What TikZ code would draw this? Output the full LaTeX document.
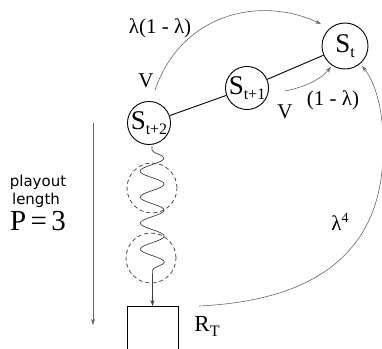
\documentclass[tikz,border=0pt]{standalone}
\usepackage{fontspec}
\setmainfont{Liberation Serif}
\newfontfamily\sansf{DejaVu Sans}
\usetikzlibrary{arrows.meta,decorations.pathmorphing}
\newcommand\lowsub[1]{\raisebox{-5pt}{\fontsize{16}{16}\selectfont #1}}
\newcommand\highsup[1]{\raisebox{8pt}{\fontsize{14}{14}\selectfont #1}}
\begin{document}
\begin{tikzpicture}[x=1pt,y=-1pt,
  state/.style={circle, draw, line width=0.9pt, inner sep=0pt, font=\fontsize{27}{27}\selectfont},
  lbl/.style={font=\fontsize{21}{21}\selectfont, inner sep=0pt},
  arcline/.style={draw=black!60, line width=0.6pt, -{Stealth[length=6pt,width=4pt]}},
  dashcirc/.style={circle, draw=black!70, dash pattern=on 4pt off 3pt, line width=0.8pt, minimum size=50pt, inner sep=0pt},
  solidline/.style={line width=0.9pt}]
\useasboundingbox (0,0) rectangle (382,348);
% states
\node[state, minimum size=46pt] (St) at (345,46) {S\lowsub{t}};
\node[state, minimum size=40pt] (St1) at (247,88) {S\lowsub{t+1}};
\node[state, minimum size=42pt] (St2) at (149,123) {S\lowsub{t+2}};
\draw[solidline] (St2) -- (St1);
\draw[solidline] (St1) -- (St);
% dashed circles
\node[dashcirc] (d1) at (152,188) {};
\node[dashcirc] (d2) at (151,258) {};
% terminal box
\node[draw, line width=0.9pt, minimum width=51pt, minimum height=60pt, anchor=north, inner sep=0pt] (box) at (152.5,306) {};
% playout wave
\coordinate (w0) at (152,146);
\draw[line width=0.7pt, black!75, decorate, decoration={snake, amplitude=12pt, segment length=26pt, pre length=4pt, post length=34pt}, -{Stealth[length=6pt,width=4pt]}] (w0) -- (box.north);
% arcs
\coordinate (a1s) at (155,90);
\coordinate (a1e) at (321,24);
\draw[arcline] (a1s) .. controls (182,12) and (262,-4) .. (a1e);
\coordinate (a2s) at (285,91);
\coordinate (a2e) at (331,67);
\draw[arcline] (a2s) .. controls (300,88) and (318,82) .. (a2e);
\coordinate (a3s) at (199,306);
\coordinate (a3m) at (383,150);
\coordinate (a3e) at (362,66);
\draw[arcline] (a3s) .. controls (330,300) and (383,240) .. (a3m) .. controls (384,110) and (375,82) .. (a3e);
% playout length arrow
\coordinate (pl1) at (93,123);
\coordinate (pl2) at (93,325);
\draw[arcline] (pl1) -- (pl2);
% labels
\node[lbl] (l1) at (160,28) {λ(1 - λ)};
\node[lbl] (v1) at (146,81) {V};
\node[lbl] (v2) at (285,112) {V};
\node[lbl] (l2) at (333,100) {(1 - λ)};
\node[lbl] (l4) at (340,222) {λ\highsup{4}};
\node[lbl, font=\fontsize{23}{23}\selectfont] (rt) at (207,326) {R\lowsub{T}};
\node[inner sep=0pt, font=\sansf\fontsize{15}{15}\selectfont] (pl) at (38,182) {playout};
\node[inner sep=0pt, font=\sansf\fontsize{15}{15}\selectfont] (len) at (36,200) {length};
\node[inner sep=0pt, font=\fontsize{29}{29}\selectfont] (p3) at (38,221) {P\hspace{0.15em}=\hspace{0.15em}3};
\end{tikzpicture}
\end{document}
